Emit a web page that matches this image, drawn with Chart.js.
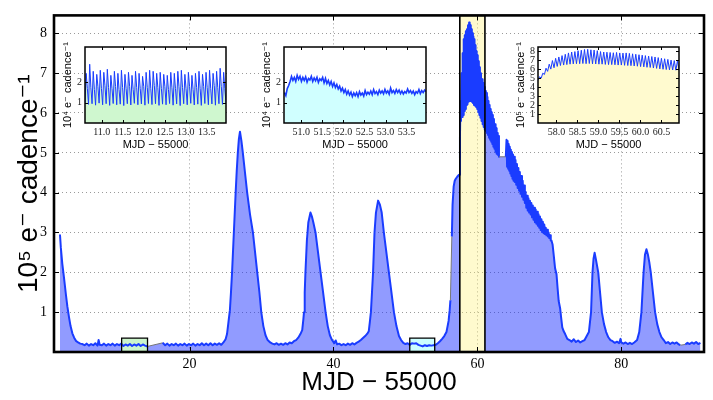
<!DOCTYPE html>
<html><head><meta charset="utf-8">
<script src="https://cdn.jsdelivr.net/npm/chart.js@4.4.1/dist/chart.umd.min.js"></script>
<style>
html,body{margin:0;padding:0;background:#fff;}
#wrap{position:relative;width:713px;height:400px;overflow:hidden;}
canvas{position:absolute;}
</style></head><body>
<div id="wrap">
<canvas id="main" width="713" height="400" style="left:0;top:0"></canvas>
<canvas id="in1" width="177" height="117" style="left:55px;top:38px"></canvas>
<canvas id="in2" width="178" height="117" style="left:254px;top:38px"></canvas>
<canvas id="in3" width="177" height="117" style="left:508px;top:38px"></canvas>
</div>
<script>
// ---------------- DATA ----------------
const xTitle = 'MJD \u2212 55000';
const yTitleMain = '10\u2075 e\u207B cadence\u207B\u00B9';
const yTitle4 = '10\u2074 e\u207B cadence\u207B\u00B9';
const yTitle5 = '10\u2075 e\u207B cadence\u207B\u00B9';

const xTicks = [20, 40, 60, 80];
const yTicks = [1, 2, 3, 4, 5, 6, 7, 8];

// main light curve (MJD - 55000, 1e5 e- / cadence)
const mainMJD = [
1.98,2.10,2.30,2.55,2.80,3.00,3.24,3.45,3.70,3.95,4.20,4.50,4.80,5.10,5.40,5.70,6.00,6.30,6.60,6.90,7.20,7.35,7.50,7.80,8.10,8.40,8.70,9.00,9.30,9.60,9.90,10.20,10.50,10.80,11.10,11.40,11.70,12.00,12.30,12.60,12.90,13.20,13.50,13.80,14.15,
16.25,16.60,16.90,17.20,17.50,17.80,18.10,18.40,18.70,19.00,19.30,19.60,19.90,20.20,20.50,20.80,21.10,21.40,21.70,22.00,22.30,22.60,22.90,23.20,23.50,23.80,24.10,24.40,24.70,25.00,25.20,25.40,25.60,25.75,25.90,26.05,26.20,26.40,26.55,26.70,26.85,27.00,27.20,27.40,27.70,28.00,28.40,28.80,29.10,29.40,29.70,29.96,30.25,30.55,30.85,31.20,31.50,31.80,32.10,32.40,32.70,33.00,33.30,33.60,33.90,34.20,34.50,34.80,35.10,35.40,35.65,35.80,35.90,36.00,36.10,36.30,36.50,36.80,37.00,37.20,37.50,37.85,38.20,38.55,38.90,39.20,39.50,39.80,40.10,40.30,40.50,40.80,41.10,41.40,41.70,42.00,42.30,42.60,42.90,43.20,43.50,43.80,44.10,44.40,44.70,44.90,45.05,45.20,45.35,45.50,45.70,45.90,46.20,46.45,46.70,47.00,47.35,47.70,48.05,48.40,48.75,49.10,49.40,49.70,50.00,50.30,50.60,50.90,51.20,51.50,51.80,52.10,52.40,52.70,53.00,53.30,53.60,53.90,54.20,54.50,54.80,55.10,55.40,55.70,56.00,56.15,56.25,
56.45,56.55,56.70,56.85,57.00,57.20,57.45,57.58,57.65,57.72,57.80,57.88,57.95,58.03,58.10,58.18,58.25,58.33,58.40,58.48,58.55,58.63,58.70,58.78,58.85,58.93,59.00,59.08,59.15,59.23,59.30,59.38,59.45,59.53,59.60,59.68,59.75,59.83,59.90,59.98,60.05,60.13,60.20,60.28,60.35,60.43,60.50,60.58,60.65,60.73,60.80,60.88,60.95,61.03,61.10,61.18,61.25,61.33,61.40,61.48,61.55,61.63,61.70,61.78,61.85,61.93,62.00,62.08,62.15,62.23,62.30,62.38,62.45,62.53,62.60,62.68,62.75,62.83,62.90,63.00,
63.95,64.05,64.13,64.20,64.28,64.35,64.43,64.50,64.58,64.65,64.73,64.80,64.88,64.95,65.03,65.10,65.20,65.30,65.40,65.50,65.60,65.70,65.80,65.90,66.00,66.10,66.20,66.30,66.40,66.50,66.60,66.70,66.80,66.90,67.00,67.10,67.20,67.30,67.40,67.50,67.60,67.70,67.80,67.90,68.00,68.10,68.20,68.30,68.40,68.50,68.60,68.70,68.80,68.90,69.00,69.10,69.20,69.30,69.40,69.50,69.60,69.70,69.80,69.90,70.00,70.10,70.20,70.30,70.45,70.60,70.80,71.00,71.15,71.30,71.50,71.65,71.80,72.00,72.20,72.50,72.80,73.10,73.40,73.70,74.00,74.30,74.60,74.90,75.20,75.50,75.80,76.00,76.15,76.30,76.50,76.80,77.05,77.30,77.60,77.90,78.20,78.50,78.80,79.10,79.40,79.70,79.90,80.00,80.30,80.60,80.90,81.20,81.50,81.80,82.00,82.20,82.50,82.80,83.10,83.30,83.50,83.70,83.90,84.10,84.40,84.70,85.00,85.30,85.60,85.90,86.20,86.50,86.80,87.10,87.40,87.70,88.00,88.20,
88.90,89.20,89.50,89.80,90.10,90.40,90.70,91.00
];
const mainFlux = [
2.95,2.62,2.22,1.85,1.45,1.15,0.87,0.65,0.47,0.36,0.28,0.24,0.21,0.20,0.17,0.21,0.16,0.20,0.17,0.22,0.16,0.30,0.18,0.17,0.21,0.16,0.20,0.17,0.21,0.16,0.20,0.17,0.21,0.15,0.19,0.16,0.20,0.15,0.19,0.16,0.20,0.15,0.19,0.16,0.14,
0.23,0.17,0.21,0.16,0.20,0.17,0.21,0.16,0.20,0.17,0.21,0.16,0.20,0.17,0.21,0.16,0.20,0.17,0.22,0.17,0.21,0.17,0.22,0.17,0.21,0.18,0.22,0.18,0.24,0.32,0.45,0.75,1.05,1.50,2.00,2.60,3.20,4.00,4.55,5.00,5.35,5.53,5.30,5.00,4.50,4.00,3.45,3.00,2.50,2.00,1.50,1.00,0.65,0.42,0.30,0.24,0.21,0.19,0.22,0.18,0.21,0.18,0.22,0.19,0.24,0.22,0.27,0.30,0.36,0.45,0.55,0.80,1.00,1.50,2.00,2.80,3.25,3.50,3.40,3.25,3.00,2.50,2.00,1.50,1.00,0.65,0.42,0.30,0.22,0.29,0.19,0.21,0.17,0.20,0.17,0.21,0.18,0.22,0.19,0.23,0.26,0.30,0.35,0.40,0.46,0.52,0.75,1.00,1.50,2.00,3.00,3.50,3.80,3.70,3.50,3.00,2.50,2.00,1.50,1.00,0.65,0.40,0.30,0.23,0.20,0.22,0.18,0.22,0.21,0.22,0.18,0.16,0.14,0.17,0.15,0.17,0.16,0.17,0.18,0.22,0.27,0.33,0.40,0.50,0.78,1.05,1.30,
2.90,3.70,4.15,4.30,4.35,4.40,4.45,5.40,6.30,5.80,7.00,5.90,7.50,5.95,7.85,6.05,7.95,6.10,8.05,6.20,8.10,6.22,8.20,6.28,8.27,6.30,8.20,6.30,8.10,6.28,8.00,6.25,7.92,6.20,7.85,6.18,7.70,6.15,7.55,6.10,7.45,6.02,7.30,5.95,7.15,5.88,7.00,5.80,6.85,5.72,6.75,5.65,6.65,5.58,6.55,5.55,6.50,5.50,6.40,5.45,6.30,5.38,6.20,5.33,6.10,5.28,6.02,5.22,5.95,5.15,5.85,5.10,5.72,5.03,5.62,4.98,5.50,4.95,5.42,4.90,
4.90,5.33,4.65,5.30,4.60,5.22,4.55,5.15,4.48,5.08,4.42,5.02,4.35,4.96,4.30,4.90,4.27,4.82,4.20,4.72,4.12,4.62,4.05,4.52,3.97,4.42,3.90,4.30,3.82,4.18,3.74,4.02,3.62,3.92,3.55,3.86,3.50,3.80,3.45,3.74,3.38,3.68,3.32,3.62,3.26,3.58,3.22,3.52,3.17,3.46,3.12,3.40,3.06,3.33,3.01,3.27,2.98,3.20,2.96,3.12,2.93,3.07,2.90,3.00,2.86,2.93,2.80,2.80,2.70,2.45,2.10,1.95,1.60,1.28,1.10,0.85,0.62,0.52,0.45,0.33,0.30,0.26,0.32,0.25,0.29,0.24,0.27,0.30,0.40,0.50,1.00,2.00,2.35,2.49,2.30,2.00,1.50,1.00,0.70,0.50,0.37,0.30,0.27,0.23,0.26,0.22,0.33,0.24,0.21,0.24,0.20,0.23,0.20,0.24,0.27,0.30,0.50,1.00,2.00,2.45,2.58,2.45,2.25,2.00,1.50,1.00,0.70,0.50,0.37,0.30,0.22,0.25,0.20,0.24,0.21,0.24,0.19,0.17,
0.19,0.23,0.20,0.24,0.21,0.25,0.20,0.23
];
// data gaps (start, end)
const gaps = [[14.15,16.25],[56.25,56.45],[63.00,63.95],[88.20,88.90]];
// highlighted interval and zoom boxes
const bandRange = [57.56, 61.05];
const box1Range = [10.55, 14.15];
const box2Range = [50.60, 54.07];
const boxTop = 0.35;

// inset 1 (1e4 e-/cadence), cadence start/step
const in1Start = 10.60, in1Step = 0.028;
const in1Flux = [
1.00,2.45,1.70,0.92,2.90,1.75,0.95,2.55,1.65,0.88,2.40,1.80,0.98,2.60,1.70,0.90,2.50,1.85,0.95,2.65,1.75,0.87,2.35,1.70,0.96,2.55,1.80,0.90,2.45,1.65,
0.93,2.60,1.75,0.86,2.40,1.70,0.95,2.50,1.80,0.89,2.35,1.65,0.97,2.55,1.75,0.90,2.45,1.70,0.94,2.30,1.80,0.88,2.50,1.75,0.96,2.60,1.70,0.91,2.55,1.85,
0.95,2.45,1.75,0.87,2.50,1.70,0.93,2.40,1.80,0.90,2.35,1.65,0.96,2.50,1.75,0.88,2.45,1.70,0.94,2.55,1.80,0.86,2.60,1.75,0.95,2.40,1.70,0.90,2.50,1.80,
0.97,2.35,1.65,0.89,2.45,1.75,0.93,2.55,1.70,0.87,2.40,1.80,0.96,2.50,1.75,0.90,2.60,1.70,0.94,2.45,1.85,0.88,2.55,1.75,0.95,2.70,1.80,0.92,2.50,1.70,0.98
];
const in1Ticks = [11.0, 11.5, 12.0, 12.5, 13.0, 13.5];

// inset 2 (1e4 e-/cadence)
const in2Start = 50.60, in2Step = 0.0336;
const in2Flux = [
1.50,1.35,1.70,1.85,2.05,2.30,2.10,2.25,2.05,2.35,
2.15,2.30,2.05,2.25,2.10,2.28,2.02,2.20,2.12,2.30,
2.05,2.22,2.08,2.26,2.00,2.18,2.10,2.25,1.98,2.20,
1.95,2.10,1.88,2.05,1.80,1.98,1.75,1.90,1.68,1.82,
1.58,1.72,1.50,1.65,1.42,1.58,1.38,1.52,1.30,1.48,
1.35,1.50,1.30,1.55,1.38,1.48,1.33,1.60,1.40,1.52,
1.42,1.58,1.40,1.65,1.45,1.55,1.40,1.62,1.47,1.58,
1.44,1.66,1.48,1.58,1.42,1.72,1.50,1.60,1.46,1.65,
1.50,1.62,1.45,1.58,1.43,1.55,1.48,1.68,1.50,1.60,
1.46,1.58,1.40,1.55,1.48,1.65,1.45,1.60,1.50,1.62,1.55
];
const in2Ticks = [51.0, 51.5, 52.0, 52.5, 53.0, 53.5];

// inset 3 (1e5 e-/cadence)
const in3Start = 57.56, in3Step = 0.0382;
const in3Flux = [
4.75,5.15,5.00,5.55,5.40,6.10,5.75,6.55,6.00,6.95,6.15,7.20,6.30,7.35,6.40,7.50,6.45,7.65,6.50,7.80,
6.55,7.90,6.58,7.95,6.60,8.05,6.60,8.10,6.62,8.18,6.60,8.20,6.62,8.15,6.58,8.12,6.57,8.05,6.55,7.95,
6.55,7.90,6.52,7.88,6.50,7.85,6.50,7.82,6.48,7.85,6.45,7.80,6.45,7.78,6.42,7.80,6.40,7.75,6.38,7.70,
6.35,7.65,6.32,7.60,6.28,7.55,6.25,7.50,6.20,7.45,6.18,7.40,6.12,7.35,6.08,7.28,6.02,7.20,5.98,7.15,
5.95,7.08,5.92,7.00,5.90,6.95,5.88,6.92,5.85
];
const in3Ticks = [58.0, 58.5, 59.0, 59.5, 60.0, 60.5];
const in3YTicks = [1, 2, 3, 4, 5, 6, 7, 8];
const in12YTicks = [1, 2];

// ---------------- STYLE / HELPERS ----------------
const SERIF = "'Liberation Serif', 'DejaVu Serif', serif";
const SANS = "'Liberation Sans', 'DejaVu Sans', sans-serif";
const BLUE = '#1a3cff';
const PURPLE = 'rgba(26,46,255,0.48)';

const framePlugin = {
  id: 'frame',
  beforeDraw(chart, args, opts) {
    if (opts.bg) {
      const a = chart.chartArea, ctx = chart.ctx;
      ctx.save(); ctx.fillStyle = opts.bg;
      ctx.fillRect(a.left, a.top, a.right - a.left, a.bottom - a.top);
      ctx.restore();
    }
  },
  afterDraw(chart, args, opts) {
    const {ctx, chartArea: a, scales} = chart;
    const L = opts.tickLen || 4;
    ctx.save();
    ctx.strokeStyle = '#000'; ctx.lineWidth = 1;
    ctx.beginPath();
    scales.x.ticks.forEach(t => {
      const p = Math.round(scales.x.getPixelForValue(t.value)) + 0.5;
      ctx.moveTo(p, a.bottom); ctx.lineTo(p, a.bottom - L);
      ctx.moveTo(p, a.top); ctx.lineTo(p, a.top + L);
    });
    scales.y.ticks.forEach(t => {
      const p = Math.round(scales.y.getPixelForValue(t.value)) + 0.5;
      ctx.moveTo(a.left, p); ctx.lineTo(a.left + L, p);
      ctx.moveTo(a.right, p); ctx.lineTo(a.right - L, p);
    });
    ctx.stroke();
    ctx.lineWidth = opts.width || 1.5;
    ctx.strokeRect(a.left, a.top, a.right - a.left, a.bottom - a.top);
    ctx.restore();
  }
};

function pts(xs, ys) { return xs.map((x, i) => ({x: x, y: ys[i]})); }
function cadencePts(start, step, ys) { return ys.map((y, i) => ({x: start + i * step, y: y})); }
function rectPts(r, top) { return [{x:r[0],y:0},{x:r[0],y:top},{x:r[1],y:top},{x:r[1],y:0}]; }
const isGap = (x0) => gaps.some(g => g[0] === x0);
const inBand = (x0, x1) => x0 >= bandRange[0] - 0.05 && x1 <= bandRange[1];

Chart.defaults.animation = false;
Chart.defaults.events = [];

// ---------------- MAIN CHART ----------------
const yMaxMain = 8.45;
const mainPts = pts(mainMJD, mainFlux);
new Chart(document.getElementById('main'), {
  type: 'line',
  data: {
    datasets: [
      {data: rectPts(box1Range, boxTop), fill: 'origin', backgroundColor: '#ccf5cc', borderColor: '#000', borderWidth: 1.3, pointRadius: 0, order: 1},
      {data: rectPts(box2Range, boxTop), fill: 'origin', backgroundColor: '#ccffff', borderColor: '#000', borderWidth: 1.3, pointRadius: 0, order: 1},
      {data: rectPts(bandRange, yMaxMain), fill: 'origin', backgroundColor: 'rgba(255,240,120,0.36)', borderColor: '#000', borderWidth: 1.6, pointRadius: 0, order: 2},
      // blue light-curve line (grey across data gaps)
      {data: mainPts, fill: false, borderColor: BLUE, borderWidth: 2, pointRadius: 0, order: 3,
       borderJoinStyle: 'round',
       segment: {
         borderColor: c => isGap(c.p0.parsed.x) ? '#777' : undefined,
         borderWidth: c => isGap(c.p0.parsed.x) ? 1 : undefined
       }},
      // filled area under the light curve
      {data: mainPts, fill: 'origin', backgroundColor: PURPLE, borderColor: 'rgba(0,0,0,0)', borderWidth: 0, pointRadius: 0, order: 4,
       segment: {
         backgroundColor: c => inBand(c.p0.parsed.x, c.p1.parsed.x) ? 'rgba(0,0,0,0)' : undefined
       }}
    ]
  },
  options: {
    responsive: false, devicePixelRatio: 1, animation: false,
    layout: {padding: {left: 0, top: 8, right: 9, bottom: 0}},
    plugins: {legend: {display: false}, tooltip: {enabled: false},
      filler: {drawTime: 'beforeDatasetsDraw'},
      frame: {width: 2.6, tickLen: 5}},
    scales: {
      x: {type: 'linear', min: 1.15, max: 91.5,
        afterBuildTicks: s => { s.ticks = xTicks.map(v => ({value: v})); },
        afterFit: s => { s.height = 48; },
        grid: {color: '#9a9a9a', lineWidth: 1, drawTicks: false},
        border: {display: false, dash: [1, 3]},
        ticks: {font: {family: SERIF, size: 14}, color: '#000', padding: 4, maxRotation: 0, autoSkip: false},
        title: {display: true, text: xTitle, color: '#000', font: {family: SANS, size: 26}, padding: {top: 0, bottom: 2}}
      },
      y: {type: 'linear', min: 0, max: yMaxMain,
        afterBuildTicks: s => { s.ticks = yTicks.map(v => ({value: v})); },
        afterFit: s => { s.width = 54; },
        grid: {color: '#9a9a9a', lineWidth: 1, drawTicks: false},
        border: {display: false, dash: [1, 3]},
        ticks: {font: {family: SERIF, size: 14}, color: '#000', padding: 7, autoSkip: false},
        title: {display: true, text: yTitleMain, color: '#000', font: {family: SANS, size: 28}, padding: {top: 12, bottom: 0}}
      }
    }
  },
  plugins: [framePlugin]
});

// ---------------- INSETS ----------------
function makeInset(id, data, fillColor, lineWidth, xr, yr, xt, yt, ytitle) {
  new Chart(document.getElementById(id), {
    type: 'line',
    data: {datasets: [{data: data, fill: 'origin', backgroundColor: fillColor, borderColor: BLUE, borderWidth: lineWidth, pointRadius: 0}]},
    options: {
      responsive: false, devicePixelRatio: 1, animation: false,
      layout: {padding: {left: 0, top: 6, right: 6, bottom: 0}},
      plugins: {legend: {display: false}, tooltip: {enabled: false}, frame: {width: 1.5, tickLen: 3, bg: '#fff'}},
      scales: {
        x: {type: 'linear', min: xr[0], max: xr[1],
          afterBuildTicks: s => { s.ticks = xt.map(v => ({value: v})); },
          afterFit: s => { s.height = 32; },
          grid: {display: false, drawTicks: false},
          border: {display: false},
          ticks: {font: {family: SERIF, size: 10}, color: '#222', padding: 3, maxRotation: 0, autoSkip: false, callback: v => Number(v).toFixed(1)},
          title: {display: true, text: xTitle, color: '#000', font: {family: SANS, size: 11}, padding: {top: 0, bottom: 3}}
        },
        y: {type: 'linear', min: yr[0], max: yr[1],
          afterBuildTicks: s => { s.ticks = yt.map(v => ({value: v})); },
          afterFit: s => { s.width = 30; },
          grid: {display: false, drawTicks: false},
          border: {display: false},
          ticks: {font: {family: SERIF, size: 10}, color: '#222', padding: 3, autoSkip: false},
          title: {display: true, text: ytitle, color: '#000', font: {family: SANS, size: 11}, padding: {top: 6, bottom: 0}}
        }
      }
    },
    plugins: [framePlugin]
  });
}
makeInset('in1', cadencePts(in1Start, in1Step, in1Flux), 'rgba(160,240,160,0.5)', 1, [10.60, 13.96], [0, 3.75], in1Ticks, in12YTicks, yTitle4);
makeInset('in2', cadencePts(in2Start, in2Step, in2Flux), 'rgba(170,255,255,0.55)', 1.6, [50.59, 53.96], [0, 3.75], in2Ticks, in12YTicks, yTitle4);
makeInset('in3', cadencePts(in3Start, in3Step, in3Flux), 'rgba(255,245,160,0.5)', 1, [57.56, 60.92], [0, 8.46], in3Ticks, in3YTicks, yTitle5);
</script>
</body></html>
